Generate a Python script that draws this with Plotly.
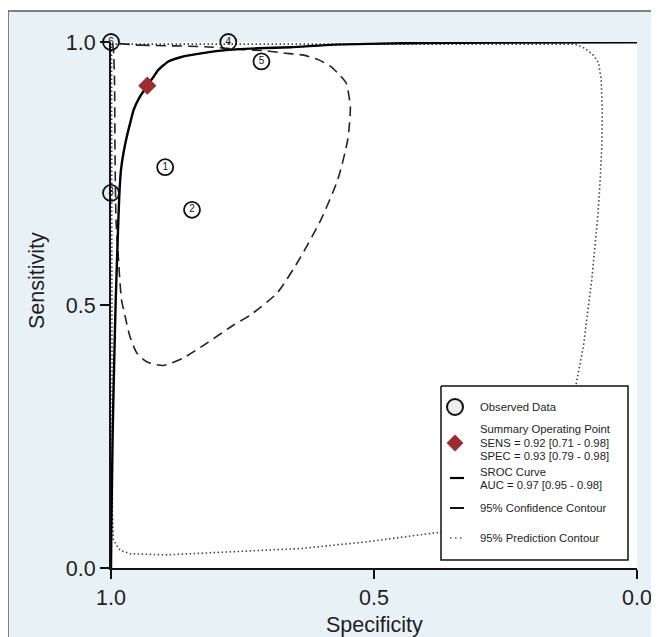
import plotly.graph_objects as go

# ---------------- data ----------------
study_ids = ["1", "2", "3", "4", "5", "6"]
study_spec = [0.897, 0.846, 1.000, 0.777, 0.714, 1.000]
study_sens = [0.762, 0.681, 0.713, 1.000, 0.963, 1.000]

summary_spec = [0.931]
summary_sens = [0.917]

sroc_spec = [1.0, 0.9994, 0.9968, 0.9943, 0.991, 0.986, 0.984, 0.981, 0.9765, 0.970,
             0.962, 0.957, 0.945, 0.931, 0.919, 0.910, 0.891, 0.868, 0.849, 0.786,
             0.721, 0.658, 0.576, 0.448, 0.258, 0.0]
sroc_sens = [0.0, 0.067, 0.257, 0.376, 0.510, 0.662, 0.713, 0.757, 0.788, 0.820,
             0.852, 0.871, 0.896, 0.917, 0.934, 0.947, 0.963, 0.971, 0.975, 0.984,
             0.988, 0.990, 0.995, 0.9975, 0.9989, 0.9994]

conf_spec = [0.996, 0.945, 0.821, 0.754, 0.703, 0.672, 0.634, 0.605, 0.582, 0.565,
             0.553, 0.545, 0.550, 0.569, 0.601, 0.639, 0.684, 0.735, 0.767, 0.817,
             0.863, 0.901, 0.932, 0.951, 0.964, 0.973, 0.980, 0.987, 0.9905, 0.9924,
             0.9933, 0.9952, 0.996]
conf_sens = [0.996, 0.994, 0.991, 0.986, 0.983, 0.979, 0.975, 0.966, 0.953, 0.937,
             0.922, 0.877, 0.814, 0.738, 0.662, 0.592, 0.523, 0.481, 0.462, 0.428,
             0.399, 0.385, 0.392, 0.409, 0.440, 0.478, 0.510, 0.605, 0.662, 0.795,
             0.928, 0.985, 0.996]

pred_spec = [0.999, 0.4485, 0.118, 0.099, 0.083, 0.073, 0.068, 0.066, 0.067, 0.070,
             0.074, 0.080, 0.086, 0.094, 0.102, 0.113, 0.115, 0.128, 0.147, 0.176,
             0.219, 0.277, 0.334, 0.391, 0.512, 0.639, 0.767, 0.894, 0.964, 0.983,
             0.9956, 0.9973, 0.998, 0.9987, 0.999]
pred_sens = [0.996, 0.996, 0.996, 0.988, 0.975, 0.960, 0.928, 0.865, 0.801, 0.738,
             0.675, 0.611, 0.548, 0.485, 0.421, 0.364, 0.352, 0.281, 0.215, 0.158,
             0.116, 0.087, 0.072, 0.066, 0.050, 0.037, 0.031, 0.025, 0.027, 0.034,
             0.053, 0.105, 0.319, 0.700, 0.996]

tick_vals = [1.0, 0.5, 0.0]
tick_text = ["1.0", "0.5", "0.0"]

legend_labels = [
    ["Observed Data"],
    ["Summary Operating Point", "SENS = 0.92 [0.71 - 0.98]", "SPEC = 0.93 [0.79 - 0.98]"],
    ["SROC Curve", "AUC = 0.97 [0.95 - 0.98]"],
    ["95% Confidence Contour"],
    ["95% Prediction Contour"],
]

# ---------------- style ----------------
OFF = 8                      # page margin of the browser
W, H = 659 - OFF, 637 - OFF
L, T = 111 - OFF, 42 - OFF
PW = PH = 526
R, B = W - L - PW, H - T - PH
BG = "#e8f1f6"
TXT = "#1e1e1e"
FONT = "Liberation Sans, Arial, sans-serif"
RED = "#9b2c31"


def u(px):
    """screen x (px) -> fraction of plot area"""
    return (px - OFF - L) / PW


def v(py):
    """screen y (px) -> fraction of plot area"""
    return (T + PH - (py - OFF)) / PH


fig = go.Figure()

fig.add_trace(go.Scatter(x=pred_spec, y=pred_sens, mode="lines",
                         line=dict(color="#444", width=1.6, dash="1.5px,2.5px"),
                         hoverinfo="skip", showlegend=False, cliponaxis=False))
fig.add_trace(go.Scatter(x=conf_spec, y=conf_sens, mode="lines",
                         line=dict(color="#222", width=1.6, dash="10px,6px", shape="spline", smoothing=0.6),
                         hoverinfo="skip", showlegend=False, cliponaxis=False))
fig.add_trace(go.Scatter(x=sroc_spec, y=sroc_sens, mode="lines",
                         line=dict(color="#000", width=2.4, shape="spline", smoothing=0.5),
                         hoverinfo="skip", showlegend=False, cliponaxis=False))
fig.add_trace(go.Scatter(x=study_spec, y=study_sens, mode="markers+text",
                         text=study_ids, textposition="middle center",
                         textfont=dict(size=10, color="#111", family=FONT),
                         marker=dict(symbol="circle", size=16, color="rgba(0,0,0,0)",
                                     line=dict(color="#111", width=1.8)),
                         showlegend=False, cliponaxis=False))
fig.add_trace(go.Scatter(x=summary_spec, y=summary_sens, mode="markers",
                         marker=dict(symbol="diamond", size=14, color=RED, line=dict(width=0)),
                         showlegend=False, cliponaxis=False))

# ---- custom legend on an overlay axis (fractions of plot area) ----
box = [u(441), u(628), v(386), v(560)]
fig.add_trace(go.Scatter(x=[box[0], box[1], box[1], box[0], box[0]],
                         y=[box[2], box[2], box[3], box[3], box[2]],
                         mode="lines", fill="toself", fillcolor="white",
                         line=dict(color="#111", width=1.5),
                         xaxis="x2", yaxis="y2", hoverinfo="skip", showlegend=False))
fig.add_trace(go.Scatter(x=[u(455)], y=[v(407)], mode="markers",
                         marker=dict(symbol="circle", size=16, color="#eeeeee",
                                     line=dict(color="#111", width=2)),
                         xaxis="x2", yaxis="y2", hoverinfo="skip", showlegend=False))
fig.add_trace(go.Scatter(x=[u(455)], y=[v(443)], mode="markers",
                         marker=dict(symbol="diamond", size=13, color=RED, line=dict(width=0)),
                         xaxis="x2", yaxis="y2", hoverinfo="skip", showlegend=False))
for py, dash, col, wd in [(478, "solid", "#000", 2.2), (508, "solid", "#111", 2.0),
                          (538, "1.5px,3.5px", "#555", 1.6)]:
    fig.add_trace(go.Scatter(x=[u(450), u(464)], y=[v(py), v(py)], mode="lines",
                             line=dict(color=col, width=wd, dash=dash),
                             xaxis="x2", yaxis="y2", hoverinfo="skip", showlegend=False))

line_y = [[406.7], [429.0, 442.5, 456.0], [471.5, 485.0], [508.3], [538.3]]
annotations = []
for labels, ys in zip(legend_labels, line_y):
    for txt, py in zip(labels, ys):
        annotations.append(dict(x=u(479), y=v(py), xref="paper", yref="paper", text=txt,
                                showarrow=False, xanchor="left", yanchor="middle",
                                borderpad=0,
                                font=dict(size=11.3, color=TXT, family=FONT)))

# axis titles
annotations.append(dict(x=u(374), y=v(625), xref="paper", yref="paper", text="Specificity",
                        showarrow=False, xanchor="center", yanchor="middle",
                        font=dict(size=21.5, color=TXT, family=FONT)))
annotations.append(dict(x=u(37), y=v(281), xref="paper", yref="paper", text="Sensitivity",
                        showarrow=False, xanchor="center", yanchor="middle", textangle=-90,
                        font=dict(size=21.5, color=TXT, family=FONT)))

axis_common = dict(showgrid=False, zeroline=False, ticks="outside", ticklen=9,
                   tickwidth=1.5, tickcolor="#111", showline=True, linecolor="#111",
                   linewidth=2, tickvals=tick_vals, ticktext=tick_text, automargin=False,
                   tickfont=dict(size=21.5, color=TXT, family=FONT), fixedrange=True)

fig.update_layout(
    width=W, height=H,
    margin=dict(l=L, r=R, t=T, b=B, autoexpand=False),
    paper_bgcolor="white", plot_bgcolor="white",
    xaxis=dict(range=[1, 0], **axis_common),
    yaxis=dict(range=[0, 1], **axis_common),
    xaxis2=dict(overlaying="x", range=[0, 1], visible=False, fixedrange=True),
    yaxis2=dict(overlaying="y", range=[0, 1], visible=False, fixedrange=True),
    annotations=annotations,
    shapes=[dict(type="rect", xref="paper", yref="paper", layer="below",
                 x0=u(8), x1=u(670), y0=v(650), y1=v(11),
                 line=dict(color="#5a5a5a", width=1.5), fillcolor=BG),
            dict(type="rect", xref="paper", yref="paper", layer="below",
                 x0=0, x1=1, y0=0, y1=1, line=dict(width=0), fillcolor="white")],
    showlegend=False,
)

fig.write_html("out.html")
